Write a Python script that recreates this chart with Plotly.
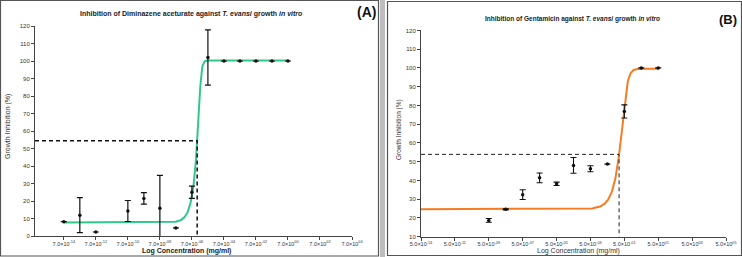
import numpy as np
import plotly.graph_objects as go

W, H = 742, 257

# ---------------- Data: panel A (Diminazene aceturate) ----------------
a_logconc = [-14, -13, -12, -10, -9, -8, -7, -6, -5, -4, -3, -2, -1, 0]
a_mean = [8.2, 11.9, 2.3, 14.3, 21.5, 15.8, 4.6, 25.0, 102.0, 100.0, 100.0, 100.0, 100.0, 100.0]
a_err = [0, 10.0, 0, 6.0, 3.3, 18.8, 0, 3.5, 15.8, 0, 0, 0, 0, 0]
a_tick_exp = ["-14", "-12", "-10", "-08", "-06", "-04", "-02", "00", "02", "04"]
a_tick_vals = [-14, -12, -10, -8, -6, -4, -2, 0, 2, 4]
# fitted sigmoid parameters: bottom, top, logC, hill, asymmetry
a_fit = dict(bottom=7.7, top=100.3, logc=-5.474, hill=6.0, asym=0.25)
a_cut = dict(x=-5.67, y=54.4)

# ---------------- Data: panel B (Gentamicin) ----------------
b_logconc = [-9, -8, -7, -6, -5, -4, -3, -2, -1, 0, 1]
b_mean = [18.7, 24.6, 32.4, 41.4, 38.2, 48.0, 46.2, 48.7, 76.8, 100.0, 100.0]
b_err = [1.0, 0.3, 2.6, 2.6, 0.9, 4.2, 1.6, 0, 3.5, 0, 0]
b_tick_exp = ["-13", "-11", "-09", "-07", "-05", "-03", "-01", "01", "03", "05"]
b_tick_vals = [-13, -11, -9, -7, -5, -3, -1, 1, 3, 5]
b_fit = dict(bottom=24.7, top=99.6, logc=-0.983, hill=3.0, asym=0.4)
b_cut = dict(x=-1.31, y=53.9)


def sigmoid(x, p):
    return p["bottom"] + (p["top"] - p["bottom"]) / (1 + 10 ** ((p["logc"] - x) * p["hill"])) ** p["asym"]


def px(x):
    return x / W


def py(y):
    return 1 - y / H


FONT = "Liberation Sans, Arial, sans-serif"
fig = go.Figure()

# ---------- Panel A ----------
xa = np.linspace(a_logconc[0], a_logconc[-1], 600)
fig.add_trace(go.Scatter(x=xa, y=sigmoid(xa, a_fit), mode="lines",
                         line=dict(color="#2ec98a", width=2), xaxis="x", yaxis="y", hoverinfo="skip"))
fig.add_trace(go.Scatter(x=[-15.8, a_cut["x"], a_cut["x"]], y=[a_cut["y"], a_cut["y"], 0], mode="lines",
                         line=dict(color="#111", width=1.5, dash="4px,3px"), xaxis="x", yaxis="y"))
fig.add_trace(go.Scatter(x=a_logconc, y=a_mean, mode="markers",
                         marker=dict(color="#111", size=3.5),
                         error_y=dict(type="data", array=a_err, color="#111", thickness=1.2, width=3),
                         xaxis="x", yaxis="y"))

# ---------- Panel B ----------
xb = np.linspace(b_tick_vals[0], b_logconc[-1], 600)
fig.add_trace(go.Scatter(x=xb, y=sigmoid(xb, b_fit), mode="lines",
                         line=dict(color="#f57c22", width=2), xaxis="x2", yaxis="y2", hoverinfo="skip"))
fig.add_trace(go.Scatter(x=[-13, b_cut["x"], b_cut["x"]], y=[b_cut["y"], b_cut["y"], 10], mode="lines",
                         line=dict(color="#222", width=1, dash="4px,3px"), xaxis="x2", yaxis="y2"))
fig.add_trace(go.Scatter(x=b_logconc, y=b_mean, mode="markers",
                         marker=dict(color="#111", size=3.5),
                         error_y=dict(type="data", array=b_err, color="#111", thickness=1.1, width=3),
                         xaxis="x2", yaxis="y2"))

axcommon = dict(showgrid=False, zeroline=False, showline=True, linecolor="#444", linewidth=1,
                ticks="outside", ticklen=3, tickwidth=1, tickcolor="#444", automargin=False)
yfont = dict(family=FONT, size=6, color="#333")
xfont = dict(family=FONT, size=5.5, color="#333")

fig.update_layout(
    width=W, height=H, margin=dict(l=0, r=0, t=0, b=0, autoexpand=False),
    paper_bgcolor="white", plot_bgcolor="white", showlegend=False,
    xaxis=dict(axcommon, domain=[px(35), px(352)], range=[-15.8, 4.0], tickfont=xfont, ticklabelstandoff=-1,
               tickvals=a_tick_vals, ticktext=[f"7.0×10<sup>{e}</sup>" for e in a_tick_exp],
               anchor="y"),
    yaxis=dict(axcommon, domain=[py(236), py(26)], range=[0, 120], tickvals=list(range(0, 121, 10)),
               tickfont=yfont, anchor="x"),
    xaxis2=dict(axcommon, domain=[px(421), px(726)], range=[-13, 5], tickfont=xfont, ticklabelstandoff=-1,
                tickvals=b_tick_vals, ticktext=[f"5.0×10<sup>{e}</sup>" for e in b_tick_exp],
                anchor="y2"),
    yaxis2=dict(axcommon, domain=[py(236.7), py(30.4)], range=[10, 120], tickvals=list(range(10, 121, 10)),
                tickfont=yfont, anchor="x2"),
)

shapes = [
    dict(type="rect", xref="paper", yref="paper", x0=px(0.5), x1=px(378.5), y0=py(256), y1=py(0.5),
         line=dict(color="#555", width=1.2)),
    dict(type="rect", xref="paper", yref="paper", x0=px(380), x1=px(385), y0=py(257), y1=py(0),
         line=dict(width=0), fillcolor="#bdbdbd"),
    dict(type="rect", xref="paper", yref="paper", x0=px(387.5), x1=px(741.5), y0=py(255.5), y1=py(1.5),
         line=dict(color="#555", width=1.2)),
]
fig.update_layout(shapes=shapes)

ann = []
ann.append(dict(x=px(191), y=py(14), text="<b>Inhibition of Diminazene aceturate against <i>T. evansi</i> growth <i>in vitro</i></b>",
                font=dict(family=FONT, size=7, color="#222")))
ann.append(dict(x=px(366), y=py(12), text="<b>(A)</b>", font=dict(family=FONT, size=14, color="#111")))
ann.append(dict(x=px(186), y=py(251), text="<b>Log Concentration (mg/ml)</b>", font=dict(family=FONT, size=7, color="#222")))
ann.append(dict(x=px(8), y=py(127), text="Growth Inhibition (%)", textangle=-90, font=dict(family=FONT, size=7, color="#333")))

ann.append(dict(x=px(572), y=py(19.5), text="<b>Inhibition of Gentamicin against <i>T. evansi</i> growth <i>in vitro</i></b>",
                font=dict(family=FONT, size=6.5, color="#222")))
ann.append(dict(x=px(728), y=py(20), text="<b>(B)</b>", font=dict(family=FONT, size=13, color="#111")))
ann.append(dict(x=px(578), y=py(251), text="Log Concentration (mg/ml)", font=dict(family=FONT, size=7, color="#333")))
ann.append(dict(x=px(399), y=py(130), text="Growth Inhibition (%)", textangle=-90, font=dict(family=FONT, size=6.5, color="#333")))

for a in ann:
    a.update(xref="paper", yref="paper", showarrow=False, xanchor="center", yanchor="middle")
fig.update_layout(annotations=ann)

fig.write_html("out.html")
